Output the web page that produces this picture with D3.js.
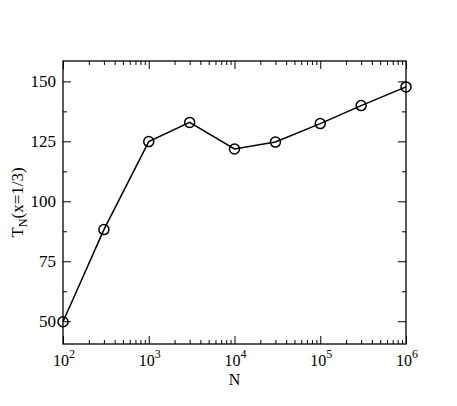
<!DOCTYPE html>
<html>
<head>
    <title>T_N vs N</title>
    <meta charset="utf-8">
</head>
<body style="margin:0;background:#fff">
<style>
    text { font-family: "Liberation Serif", "DejaVu Serif", serif; fill: #000; }
    .axis path { display: none; }
    .axis line { stroke: #000; stroke-width: 1; }
</style>
<script src="https://d3js.org/d3.v7.min.js"></script>
<script>
    const SIZES = {
        WIDTH: 457,
        HEIGHT: 406,
        LEFT: 63,
        RIGHT: 51,
        TOP: 61,
        BOTTOM: 62,
        MAJOR: 8,
        MINOR: 4,
        RADIUS: 5
    };

    // data
    const nValues = [1e2, 3e2, 1e3, 3e3, 1e4, 3e4, 1e5, 3e5, 1e6];
    const tValues = [49.8, 88.2, 124.9, 132.9, 121.8, 124.7, 132.4, 139.9, 147.7];
    const xExponents = [2, 3, 4, 5, 6];
    const yTicks = [50, 75, 100, 125, 150];
    const yMinorTicks = [62.5, 87.5, 112.5, 137.5];

    const w = SIZES.WIDTH - SIZES.LEFT - SIZES.RIGHT;
    const h = SIZES.HEIGHT - SIZES.TOP - SIZES.BOTTOM;

    const svg = d3.select('body').append('svg')
        .attr('width', SIZES.WIDTH)
        .attr('height', SIZES.HEIGHT);

    const g = svg.append('g').attr('transform', `translate(${SIZES.LEFT},${SIZES.TOP})`);

    const x = d3.scaleLog().domain([1e2, 1e6]).range([0, w]);
    const y = d3.scaleLinear().domain([40.5, 158.5]).range([h, 0]);

    const majorX = xExponents.map(e => Math.pow(10, e));
    const minorX = [];
    xExponents.slice(0, -1).forEach(e => {
        for (let k = 2; k <= 9; k++) minorX.push(k * Math.pow(10, e));
    });

    // inward ticks on all four sides
    function addTicks(axisFn, scale, values, size, transform) {
        g.append('g').attr('class', 'axis').attr('transform', transform)
            .call(axisFn(scale).tickValues(values).tickSize(size).tickFormat(''));
    }
    addTicks(d3.axisBottom, x, majorX, -SIZES.MAJOR, `translate(0,${h})`);
    addTicks(d3.axisBottom, x, minorX, -SIZES.MINOR, `translate(0,${h})`);
    addTicks(d3.axisTop, x, majorX, -SIZES.MAJOR, 'translate(0,0)');
    addTicks(d3.axisTop, x, minorX, -SIZES.MINOR, 'translate(0,0)');
    addTicks(d3.axisLeft, y, yTicks, -SIZES.MAJOR, 'translate(0,0)');
    addTicks(d3.axisLeft, y, yMinorTicks, -SIZES.MINOR, 'translate(0,0)');
    addTicks(d3.axisRight, y, yTicks, -SIZES.MAJOR, `translate(${w},0)`);
    addTicks(d3.axisRight, y, yMinorTicks, -SIZES.MINOR, `translate(${w},0)`);

    // frame
    g.append('rect')
        .attr('width', w).attr('height', h)
        .attr('fill', 'none').attr('stroke', '#000').attr('stroke-width', 1.3);

    // x tick labels 10^n
    const xl = g.append('g').selectAll('text').data(xExponents).enter().append('text')
        .attr('x', d => x(Math.pow(10, d)) + 1)
        .attr('y', h + 22)
        .attr('text-anchor', 'middle')
        .style('font-size', '16px');
    xl.append('tspan').text('10');
    xl.append('tspan').attr('dy', -8).style('font-size', '12px').text(d => d);

    // y tick labels
    g.append('g').selectAll('text').data(yTicks).enter().append('text')
        .attr('x', -7)
        .attr('y', d => y(d) + 5.5)
        .attr('text-anchor', 'end')
        .style('font-size', '17px')
        .text(d => d);

    // axis titles
    g.append('text')
        .attr('x', w / 2)
        .attr('y', h + 41)
        .attr('text-anchor', 'middle')
        .style('font-size', '16px')
        .text('N');

    const yt = g.append('text')
        .attr('transform', `translate(${-40},${h / 2}) rotate(-90)`)
        .attr('text-anchor', 'middle')
        .style('font-size', '17px');
    yt.append('tspan').text('T');
    yt.append('tspan').attr('dy', 4).style('font-size', '12px').text('N');
    yt.append('tspan').attr('dy', -4).text('(x=1/3)');

    const points = nValues.map((n, i) => ({n, t: tValues[i]}));

    g.append('path')
        .datum(points)
        .attr('fill', 'none')
        .attr('stroke', '#000')
        .attr('stroke-width', 1.5)
        .attr('d', d3.line().x(d => x(d.n)).y(d => y(d.t)));

    g.append('g').selectAll('circle').data(points).enter().append('circle')
        .attr('cx', d => x(d.n))
        .attr('cy', d => y(d.t))
        .attr('r', SIZES.RADIUS)
        .attr('fill', 'none')
        .attr('stroke', '#000')
        .attr('stroke-width', 1.5);
</script>
</body>
</html>
